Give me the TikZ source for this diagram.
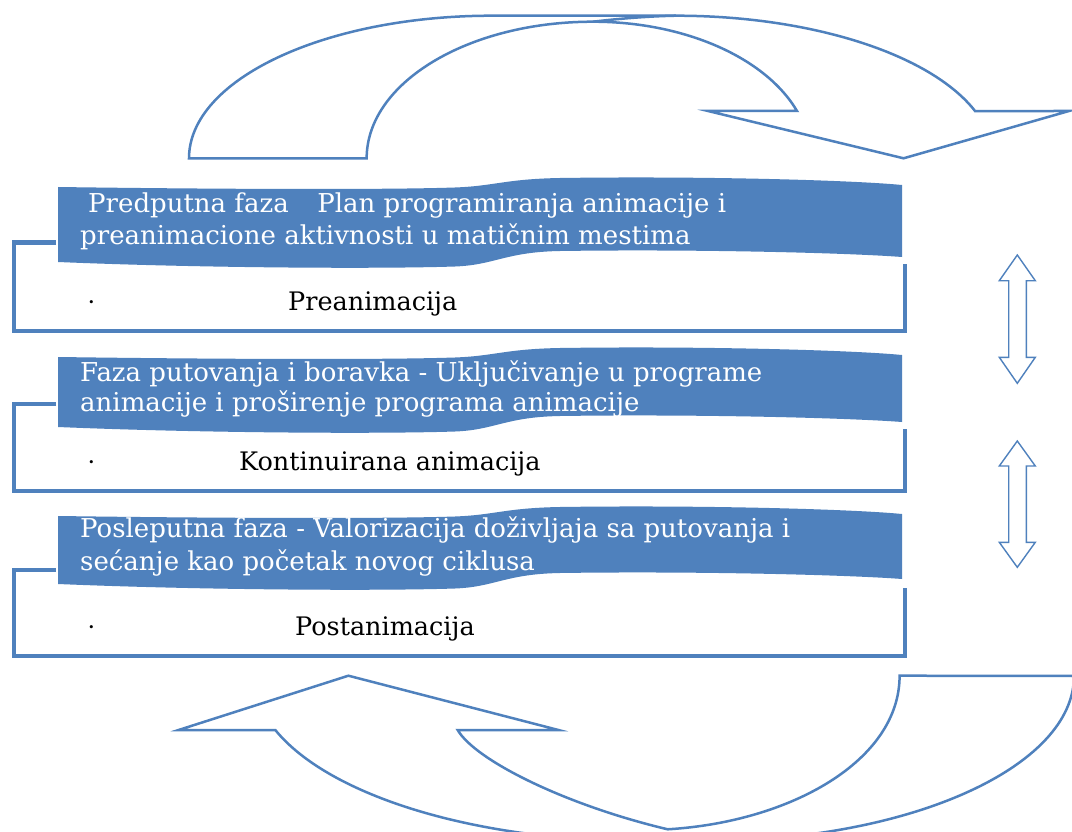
\documentclass[tikz,border=0pt]{standalone}
\usepackage{fontspec}
\setmainfont{DejaVu Serif}
\definecolor{acc}{RGB}{79,129,189}
\tikzset{
  bn/.style={fill=acc, draw=none},
  brk/.style={draw=acc, line width=4.8pt, line join=miter},
  carrow/.style={draw=acc, line width=2.5pt, line join=miter},
  darrow/.style={draw=acc, line width=1.4pt, fill=white, line join=miter},
  wtext/.style={anchor=base west, inner sep=0pt, text=white, font=\fontsize{26pt}{30pt}\selectfont},
  btext/.style={anchor=base west, inner sep=0pt, text=black, font=\fontsize{25.5pt}{30pt}\selectfont},
  dotnode/.style={anchor=base, inner sep=0pt, text=black, font=\fontsize{24pt}{26pt}\selectfont},
}
\newcommand{\mybanner}[2]{%
\fill[bn] (58,{187+#1}) .. controls (200,{189+#1}) and (380,{190+#1}) .. (455,{187.5+#1})
 .. controls (495,{186+#1}) and (505,{179+#1}) .. (560,{178+#1})
 .. controls (700,{176+#1}) and (850,{180+#1}) .. (902,{185+#1})
 -- (902,{257+#2})
 .. controls (850,{253+#2}) and (700,{249+#2}) .. (560,{251+#2})
 .. controls (505,{252+#2}) and (495,{265+#2}) .. (455,{266.5+#2})
 .. controls (380,{269+#2}) and (200,{268+#2}) .. (58,{262+#2}) -- cycle;}
\begin{document}
\begin{tikzpicture}[x=1pt,y=-1pt]
\useasboundingbox (0,0) rectangle (1072,832);
\fill[white] (0,0) rectangle (1072,832);

\begin{scope}
\clip (0,0) rectangle (1072,832);
% top curved arrow
\draw[carrow] (189,158.3) arc[start angle=180, end angle=270, x radius=303, y radius=142.6]
  -- (676,15.7) arc[start angle=270, end angle=340.63, x radius=317, y radius=142.6]
  -- (1069,111) -- (903.6,158.3) -- (708,111) -- (797,111)
  arc[start angle=339.74, end angle=270, x radius=217.5, y radius=136.6]
  arc[start angle=270, end angle=180, x radius=226.3, y radius=136.6]
  -- cycle;
\draw[carrow] (593,21.7) .. controls (620,18.5) and (650,16.2) .. (676,15.7);
% bottom curved arrow
\draw[carrow] (457.7,730) -- (558.4,730) -- (348.4,675.7) -- (178.6,730) -- (275.3,730)
  arc[start angle=160.9, end angle=90, x radius=388, y radius=165]
  -- (706,841) arc[start angle=90, end angle=0, x radius=368, y radius=165]
  -- (899.6,675.7)
  .. controls (899.6,761) and (790,822) .. (667.7,829.3)
  .. controls (565,805) and (475,760) .. (457.7,730) -- cycle;
\end{scope}

% double arrows
\draw[darrow] (1017.3,255) -- (1035.3,280.7) -- (1026.3,280.7) -- (1026.3,357.3) -- (1035.3,357.3)
  -- (1017.3,383.3) -- (999.3,357.3) -- (1008.7,357.3) -- (1008.7,280.7) -- (999.3,280.7) -- cycle;
\draw[darrow] (1017.3,441) -- (1035.3,466) -- (1026.3,466) -- (1026.3,542.3) -- (1035.3,542.3)
  -- (1017.3,567.3) -- (999.3,542.3) -- (1008.7,542.3) -- (1008.7,466) -- (999.3,466) -- cycle;

% brackets
\draw[brk] (56,242.5) -- (14,242.5) -- (14,331) -- (905,331) -- (905,264);
\draw[brk] (56,404) -- (14,404) -- (14,491) -- (905,491) -- (905,429);
\draw[brk] (56,570) -- (14,570) -- (14,656) -- (905,656) -- (905,588);

% banners
\mybanner{0}{0}
\mybanner{170}{165}
\mybanner{329}{322}

% banner texts
\node[wtext] (t1a) at (88,213) {Predputna faza\hspace{1.1em}Plan programiranja animacije i};
\node[wtext] (t1b) at (80,244) {preanimacione aktivnosti u matičnim mestima};
\node[wtext] (t2a) at (80,381.7) {Faza putovanja i boravka - Uključivanje u programe};
\node[wtext] (t2b) at (80,411.7) {animacije i proširenje programa animacije};
\node[wtext] (t3a) at (80,537.3) {Posleputna faza - Valorizacija doživljaja sa putovanja i};
\node[wtext] (t3b) at (80,570.7) {sećanje kao početak novog ciklusa};

% box texts
\node[dotnode] (d1) at (91.5,310) {·};
\node[btext] (b1) at (288,310.5) {Preanimacija};
\node[dotnode] (d2) at (91.5,470) {·};
\node[btext] (b2) at (239,470) {Kontinuirana animacija};
\node[dotnode] (d3) at (91.5,635) {·};
\node[btext] (b3) at (295,635) {Postanimacija};
\end{tikzpicture}
\end{document}
